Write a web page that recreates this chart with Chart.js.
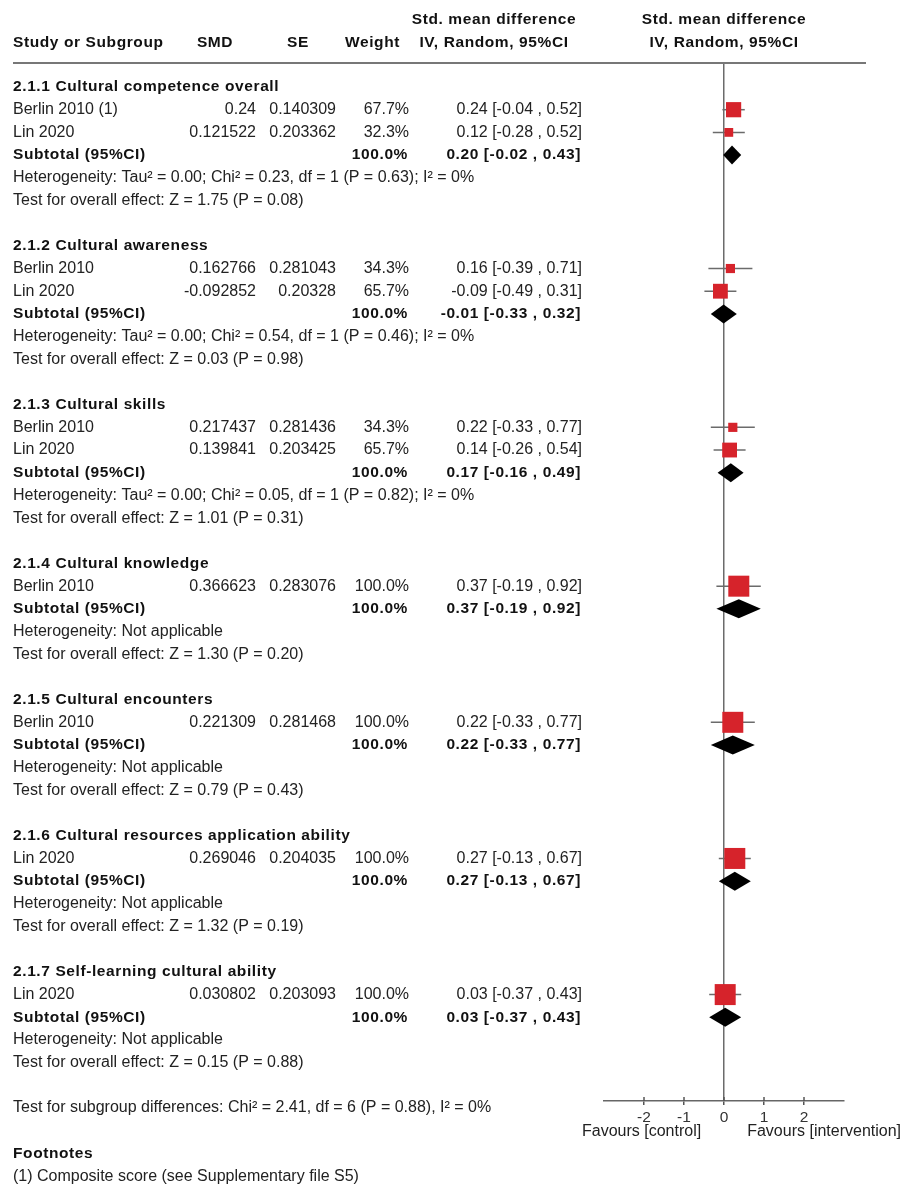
<!DOCTYPE html>
<html>
<head>
<meta charset="utf-8">
<script src="https://cdn.jsdelivr.net/npm/chart.js@4.4.1/dist/chart.umd.min.js"></script>
<style>
  html, body { margin: 0; padding: 0; background: #ffffff; }
  canvas { display: block; }
</style>
</head>
<body>
<canvas id="forest" width="904" height="1185"></canvas>
<script>
// ---- Subgroups ----
const groupTitles = [
  '2.1.1 Cultural competence overall',
  '2.1.2 Cultural awareness',
  '2.1.3 Cultural skills',
  '2.1.4 Cultural knowledge',
  '2.1.5 Cultural encounters',
  '2.1.6 Cultural resources application ability',
  '2.1.7 Self-learning cultural ability'
];
const groupHeterogeneity = [
  'Heterogeneity: Tau\u00b2 = 0.00; Chi\u00b2 = 0.23, df = 1 (P = 0.63); I\u00b2 = 0%',
  'Heterogeneity: Tau\u00b2 = 0.00; Chi\u00b2 = 0.54, df = 1 (P = 0.46); I\u00b2 = 0%',
  'Heterogeneity: Tau\u00b2 = 0.00; Chi\u00b2 = 0.05, df = 1 (P = 0.82); I\u00b2 = 0%',
  'Heterogeneity: Not applicable',
  'Heterogeneity: Not applicable',
  'Heterogeneity: Not applicable',
  'Heterogeneity: Not applicable'
];
const groupOverallEffect = [
  'Test for overall effect: Z = 1.75 (P = 0.08)',
  'Test for overall effect: Z = 0.03 (P = 0.98)',
  'Test for overall effect: Z = 1.01 (P = 0.31)',
  'Test for overall effect: Z = 1.30 (P = 0.20)',
  'Test for overall effect: Z = 0.79 (P = 0.43)',
  'Test for overall effect: Z = 1.32 (P = 0.19)',
  'Test for overall effect: Z = 0.15 (P = 0.88)'
];
const subtotalWeight = [100, 100, 100, 100, 100, 100, 100];
const subtotalEst = [0.20, -0.01, 0.17, 0.37, 0.22, 0.27, 0.03];
const subtotalLo  = [-0.02, -0.33, -0.16, -0.19, -0.33, -0.13, -0.37];
const subtotalHi  = [0.43, 0.32, 0.49, 0.92, 0.77, 0.67, 0.43];

// ---- Individual studies ----
const studyGroup  = [0, 0, 1, 1, 2, 2, 3, 4, 5, 6];
const studyName   = ['Berlin 2010 (1)', 'Lin 2020', 'Berlin 2010', 'Lin 2020', 'Berlin 2010',
                     'Lin 2020', 'Berlin 2010', 'Berlin 2010', 'Lin 2020', 'Lin 2020'];
const studySMD    = ['0.24', '0.121522', '0.162766', '-0.092852', '0.217437',
                     '0.139841', '0.366623', '0.221309', '0.269046', '0.030802'];
const studySE     = ['0.140309', '0.203362', '0.281043', '0.20328', '0.281436',
                     '0.203425', '0.283076', '0.281468', '0.204035', '0.203093'];
const studyWeight = [67.7, 32.3, 34.3, 65.7, 34.3, 65.7, 100, 100, 100, 100];
const studyEst    = [0.24, 0.12, 0.16, -0.09, 0.22, 0.14, 0.37, 0.22, 0.27, 0.03];
const studyLo     = [-0.04, -0.28, -0.39, -0.49, -0.33, -0.26, -0.19, -0.33, -0.13, -0.37];
const studyHi     = [0.52, 0.52, 0.71, 0.31, 0.77, 0.54, 0.92, 0.77, 0.67, 0.43];

// ---- Axis and notes ----
const xTicks = [-2, -1, 0, 1, 2];
const favoursLeft = 'Favours [control]';
const favoursRight = 'Favours [intervention]';
const subgroupTest = 'Test for subgroup differences: Chi\u00b2 = 2.41, df = 6 (P = 0.88), I\u00b2 = 0%';
const footnoteTitle = 'Footnotes';
const footnotes = ['(1) Composite score (see Supplementary file S5)'];

// ---- Row layout (one text line per row, blank row between subgroups) ----
const studyRow = [];
const titleRow = [], subRow = [], hetRow = [], testRow = [];
let row = 0;
groupTitles.forEach((t, g) => {
  titleRow[g] = row++;
  studyGroup.forEach((sg, i) => { if (sg === g) studyRow[i] = row++; });
  subRow[g] = row++;
  hetRow[g] = row++;
  testRow[g] = row++;
  row++;
});
const subgroupRow = row;
const footTitleRow = row + 2;
const footRows = footnotes.map((_, k) => row + 3 + k);

const fmt = v => (Math.abs(v) < 0.005 ? 0 : v).toFixed(2);
const ciLabel = (e, l, h) => `${fmt(e)} [${fmt(l)} , ${fmt(h)}]`;
const boxSide = w => 3 + 18 * w / 100;

const FONT = "'Liberation Sans', Arial, sans-serif";
const TXT = '#222222';

// Subtotal diamonds
const diamondPlugin = {
  id: 'diamonds',
  afterDatasetsDraw(chart) {
    const { ctx, scales: { x, y } } = chart;
    ctx.save();
    ctx.fillStyle = '#000000';
    subtotalEst.forEach((e, g) => {
      const cy = y.getPixelForValue(subRow[g]);
      const half = 9.5;
      ctx.beginPath();
      ctx.moveTo(x.getPixelForValue(subtotalLo[g]), cy);
      ctx.lineTo(x.getPixelForValue(e), cy - half);
      ctx.lineTo(x.getPixelForValue(subtotalHi[g]), cy);
      ctx.lineTo(x.getPixelForValue(e), cy + half);
      ctx.closePath();
      ctx.fill();
    });
    ctx.restore();
  }
};

// Table text, headers and notes
const tablePlugin = {
  id: 'table',
  afterDraw(chart) {
    const { ctx, chartArea, scales: { x, y } } = chart;
    const py = r => y.getPixelForValue(r);
    const put = (text, px, yy, align, bold, color) => {
      ctx.font = (bold ? 'bold 15.5px ' : '16px ') + FONT;
      ctx.letterSpacing = bold ? '0.6px' : '0px';
      ctx.fillStyle = color || (bold ? '#111111' : TXT);
      ctx.textAlign = align;
      ctx.textBaseline = 'middle';
      ctx.fillText(text, px, yy);
    };
    ctx.save();

    // column headers
    const h1 = chartArea.top - 43, h2 = chartArea.top - 20;
    put('Study or Subgroup', 13, h2, 'left', true);
    put('SMD', 215, h2, 'center', true);
    put('SE', 298, h2, 'center', true);
    put('Weight', 400, h2, 'right', true);
    put('Std. mean difference', 494, h1, 'center', true);
    put('IV, Random, 95%CI', 494, h2, 'center', true);
    const xc = x.getPixelForValue(0);
    put('Std. mean difference', xc, h1, 'center', true);
    put('IV, Random, 95%CI', xc, h2, 'center', true);

    // header rule
    ctx.strokeStyle = '#777777';
    ctx.lineWidth = 2;
    ctx.beginPath();
    ctx.moveTo(13, chartArea.top);
    ctx.lineTo(866, chartArea.top);
    ctx.stroke();

    // tick marks also reach a little above the axis line
    ctx.strokeStyle = '#555555';
    ctx.lineWidth = 1.5;
    xTicks.forEach(v => {
      const tx = x.getPixelForValue(v);
      ctx.beginPath();
      ctx.moveTo(tx, chartArea.bottom - 4);
      ctx.lineTo(tx, chartArea.bottom);
      ctx.stroke();
    });

    // subgroups
    groupTitles.forEach((t, g) => {
      put(t, 13, py(titleRow[g]), 'left', true);
      put('Subtotal (95%CI)', 13, py(subRow[g]), 'left', true);
      put(subtotalWeight[g].toFixed(1) + '%', 408, py(subRow[g]), 'right', true);
      put(ciLabel(subtotalEst[g], subtotalLo[g], subtotalHi[g]), 581, py(subRow[g]), 'right', true);
      put(groupHeterogeneity[g], 13, py(hetRow[g]), 'left', false);
      put(groupOverallEffect[g], 13, py(testRow[g]), 'left', false);
    });

    // studies
    studyName.forEach((n, i) => {
      const yy = py(studyRow[i]);
      put(n, 13, yy, 'left', false);
      put(studySMD[i], 256, yy, 'right', false);
      put(studySE[i], 336, yy, 'right', false);
      put(studyWeight[i].toFixed(1) + '%', 409, yy, 'right', false);
      put(ciLabel(studyEst[i], studyLo[i], studyHi[i]), 582, yy, 'right', false);
    });

    put(subgroupTest, 13, py(subgroupRow), 'left', false);
    put(footnoteTitle, 13, py(footTitleRow), 'left', true);
    footnotes.forEach((f, k) => put(f, 13, py(footRows[k]), 'left', false));

    // axis captions
    const fy = chartArea.bottom + 31;
    put(favoursLeft, x.getPixelForValue(-2.06), fy, 'center', false);
    put(favoursRight, x.getPixelForValue(0.58), fy, 'left', false);

    ctx.restore();
  }
};

// Confidence-interval whiskers, one line per study
const whiskerSets = studyEst.map((e, i) => ({
  type: 'line',
  data: [{ x: studyLo[i], y: studyRow[i] }, { x: studyHi[i], y: studyRow[i] }],
  borderColor: '#6b6b6b',
  borderWidth: 1.5,
  pointRadius: 0,
  order: 2
}));

const squareSet = {
  type: 'scatter',
  data: studyEst.map((e, i) => ({ x: e, y: studyRow[i] })),
  pointStyle: 'rect',
  pointRadius: studyWeight.map(w => boxSide(w) / (2 * Math.SQRT1_2)),
  pointBackgroundColor: '#d6232b',
  pointBorderWidth: 0,
  order: 1
};

const ROW_TOP = -1.058, ROW_BOTTOM = 44.69;

new Chart(document.getElementById('forest'), {
  type: 'scatter',
  data: { datasets: [squareSet, ...whiskerSets] },
  options: {
    responsive: false,
    animation: false,
    events: [],
    layout: { padding: { left: 604, right: 60, top: 63, bottom: 54 } },
    plugins: { legend: { display: false }, tooltip: { enabled: false } },
    scales: {
      x: {
        type: 'linear',
        min: -3,
        max: 3,
        afterBuildTicks: s => { s.ticks = xTicks.map(v => ({ value: v })); },
        afterFit: s => { s.height = 30; },
        border: { display: true, color: '#666666', width: 1.5 },
        grid: {
          drawOnChartArea: true,
          drawTicks: true,
          tickLength: 4,
          tickColor: '#555555',
          tickWidth: 1.5,
          lineWidth: 1.5,
          color: c => (c.tick && c.tick.value === 0 ? '#6b6b6b' : 'rgba(0,0,0,0)')
        },
        ticks: {
          padding: 3,
          color: '#333333',
          font: { family: FONT, size: 15.5 },
          callback: v => String(v)
        }
      },
      y: {
        type: 'linear',
        display: false,
        reverse: true,
        min: ROW_TOP,
        max: ROW_BOTTOM
      }
    }
  },
  plugins: [diamondPlugin, tablePlugin]
});
</script>
</body>
</html>
